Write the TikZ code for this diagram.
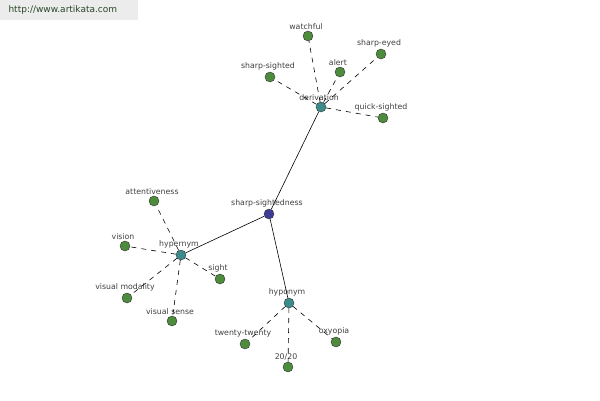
\documentclass[tikz,border=0pt]{standalone}
\usepackage{fontspec}
\setmainfont{DejaVu Sans}
\usepackage{tikz}
\definecolor{cLeaf}{RGB}{76,140,60}
\definecolor{cRel}{RGB}{60,140,140}
\definecolor{cRoot}{RGB}{60,60,150}
\definecolor{cText}{RGB}{64,64,64}
\definecolor{cSite}{RGB}{40,70,40}
\tikzset{
  dot/.style={circle,draw=black!80,line width=0.4pt,minimum size=10pt,inner sep=0pt},
  leaf/.style={dot,fill=cLeaf},
  rel/.style={dot,fill=cRel},
  root/.style={dot,fill=cRoot},
  tag/.style={label={[font=\fontsize{7.8}{9}\selectfont,text=cText,inner sep=0.5pt,label distance=0.5pt,xshift=-2pt]above:#1}},
  solidlink/.style={draw=black,line width=0.6pt},
  dashlink/.style={draw=black,line width=0.6pt,dash pattern=on 5pt off 5pt}
}
\begin{document}
\begin{tikzpicture}[x=1pt,y=-1pt]
\useasboundingbox (0,0) rectangle (600,400);
\fill[white] (0,0) rectangle (600,400);
\fill[gray!15] (0,0) rectangle (138,20);
\node[anchor=west,font=\fontsize{9}{10}\selectfont,text=cSite] (site) at (5,10) {http://www.artikata.com};
% centre
\node[root,tag=sharp-sightedness] (sharp) at (269,214) {};
\node[rel,tag=derivation] (deriv) at (321,107) {};
\node[rel,tag=hypernym] (hyper) at (181,255) {};
\node[rel,tag=hyponym] (hypo) at (289,303) {};
% derivation
\node[leaf,tag=watchful] (watchful) at (308,36) {};
\node[leaf,tag=alert] (alert) at (340,72) {};
\node[leaf,tag=sharp-eyed] (eyed) at (381,54) {};
\node[leaf,tag=sharp-sighted] (sighted) at (270,77) {};
\node[leaf,tag=quick-sighted] (quick) at (383,118) {};
% hypernym
\node[leaf,tag=attentiveness] (attent) at (154,201) {};
\node[leaf,tag=vision] (vision) at (125,246) {};
\node[leaf,tag=visual modality] (modal) at (127,298) {};
\node[leaf,tag=visual sense] (vsense) at (172,321) {};
\node[leaf,tag=sight] (sight) at (220,279) {};
% hyponym
\node[leaf,tag=twenty-twenty] (twenty) at (245,344) {};
\node[leaf,tag=20/20] (twozero) at (288,367) {};
\node[leaf,tag=oxyopia] (oxy) at (336,342) {};
\path[solidlink] (sharp) -- (deriv);
\path[solidlink] (sharp) -- (hyper);
\path[solidlink] (sharp) -- (hypo);
\path[dashlink] (deriv) -- (watchful);
\path[dashlink] (deriv) -- (alert);
\path[dashlink] (deriv) -- (eyed);
\path[dashlink] (deriv) -- (sighted);
\path[dashlink] (deriv) -- (quick);
\path[dashlink] (hyper) -- (attent);
\path[dashlink] (hyper) -- (vision);
\path[dashlink] (hyper) -- (modal);
\path[dashlink] (hyper) -- (vsense);
\path[dashlink] (hyper) -- (sight);
\path[dashlink] (hypo) -- (twenty);
\path[dashlink] (hypo) -- (twozero);
\path[dashlink] (hypo) -- (oxy);
\end{tikzpicture}
\end{document}
